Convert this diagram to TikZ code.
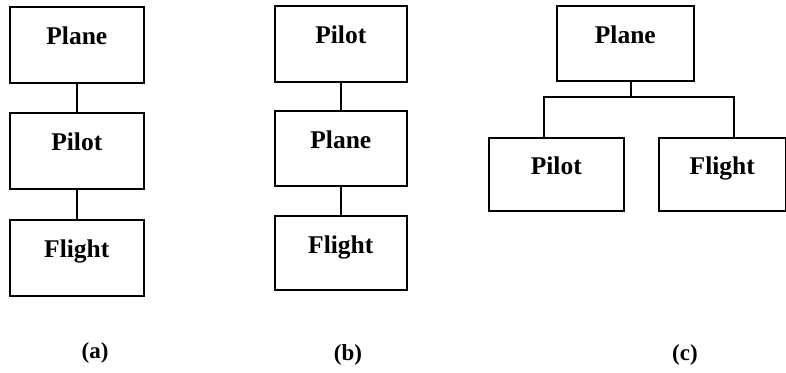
\documentclass[tikz,border=0pt]{standalone}
\usepackage{fontspec}
\setmainfont{Liberation Serif}
\tikzset{
  box/.style={draw, line width=1.6pt, inner sep=0pt, anchor=north west,
    text height=38pt, text depth=38pt, font=\bfseries\fontsize{25.5}{25.5}\selectfont},
  boxc/.style={box, text height=37pt, text depth=36pt},
  link/.style={line width=1.6pt},
  caplabel/.style={font=\bfseries\fontsize{23}{23}\selectfont, inner sep=0pt}
}
\begin{document}
\begin{tikzpicture}[x=1pt,y=-1pt]
\useasboundingbox (0,0) rectangle (786,372);
% (a)
\node[box, minimum width=134pt] (a1) at (9,6) {Plane};
\node[box, minimum width=134pt] (a2) at (9,112) {Pilot};
\node[box, minimum width=134pt] (a3) at (9,219) {Flight};
\draw[link] (a1.south) -- (a2.north);
\draw[link] (a2.south) -- (a3.north);
\node[caplabel] (la) at (95,353) {(a)};
% (b)
\node[box, minimum width=132pt] (b1) at (274,5) {Pilot};
\node[box, minimum width=132pt, text depth=37pt] (b2) at (274,110) {Plane};
\node[box, minimum width=132pt, text depth=36pt] (b3) at (274,215) {Flight};
\draw[link] (b1.south) -- (b2.north);
\draw[link] (b2.south) -- (b3.north);
\node[caplabel] (lb) at (348,355) {(b)};
% (c)
\node[box, minimum width=137pt, text depth=37pt] (c1) at (556,5) {Plane};
\node[boxc, minimum width=135pt] (c2) at (488,137) {Pilot};
\node[boxc, minimum width=127pt] (c3) at (658,137) {Flight};
\coordinate (j) at (631,97);
\draw[link] (j |- c1.south) -- (j);
\draw[link] ([xshift=-12.5pt]c2.north) |- (j) -| ([xshift=11.5pt]c3.north);
\node[caplabel] (lc) at (685,355) {(c)};
\end{tikzpicture}
\end{document}
